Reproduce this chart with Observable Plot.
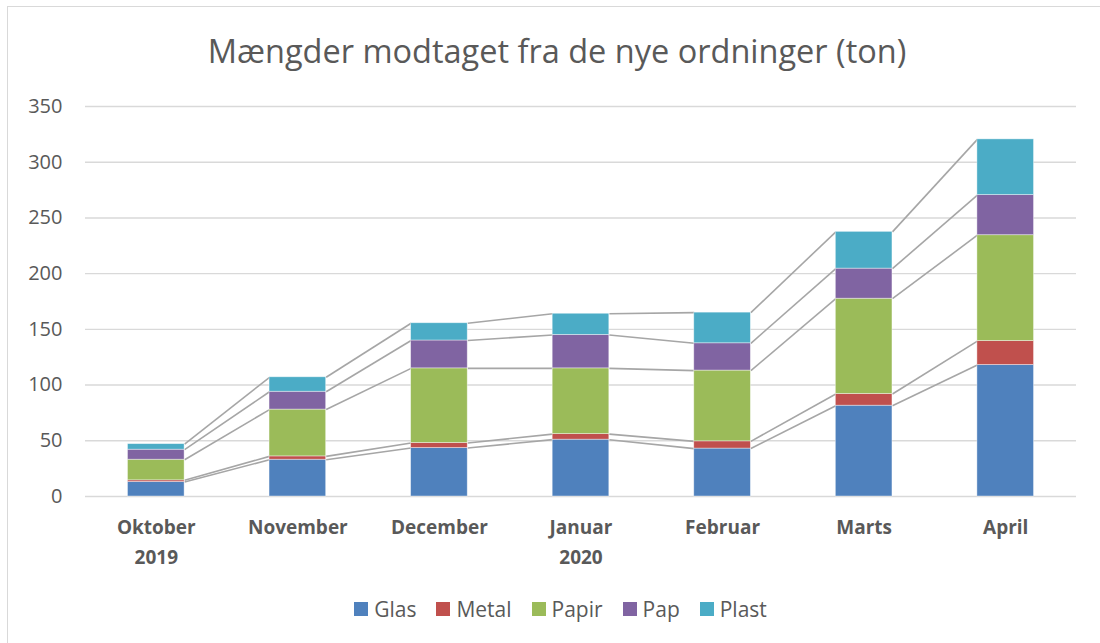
<!DOCTYPE html>
<html>
<head>
<meta charset="utf-8">
<script src="https://cdn.jsdelivr.net/npm/d3@7"></script>
<script src="https://cdn.jsdelivr.net/npm/@observablehq/plot@0.6"></script>
<style>
  html, body { margin: 0; padding: 0; background: #fff; }
  #page { position: relative; width: 1100px; height: 643px; overflow: hidden; font-family: "Open Sans", sans-serif; color: #595959; }
  #frame { position: absolute; left: 7px; top: 6px; width: 1200px; height: 800px; border-left: 1.5px solid #d9d9d9; border-top: 1.5px solid #d9d9d9; }
  #title { position: absolute; left: 0; width: 1114px; top: 29px; text-align: center; font-size: 32.5px; line-height: 44px; color: #595959; }
  #chart { position: absolute; left: 0; top: 80px; }
  #legend { position: absolute; left: 0; width: 1121px; top: 594px; display: flex; justify-content: center; gap: 20px; font-size: 21px; line-height: 30px; }
  .item { display: flex; align-items: center; gap: 6px; }
  .sw { width: 14px; height: 14px; display: inline-block; }
</style>
</head>
<body>
<div id="page">
  <div id="frame"></div>
  <div id="title">Mængder modtaget fra de nye ordninger (ton)</div>
  <div id="chart"></div>
  <div id="legend"></div>
</div>
<script>
const months = ["Oktober\n2019", "November", "December", "Januar\n2020", "Februar", "Marts", "April"];
const series = ["Glas", "Metal", "Papir", "Pap", "Plast"];
const colors = ["#4f81bd", "#c0504d", "#9bbb59", "#8064a2", "#4bacc6"];
const glas  = [13, 33, 43.5, 51, 43, 81.5, 118];
const metal = [1.5, 3, 4.5, 5, 6.5, 10.5, 21.5];
const papir = [18.5, 42, 67, 59, 63.5, 85.5, 95];
const pap   = [9, 16, 25, 30, 24.5, 27, 36];
const plast = [5, 13, 15.5, 19, 27.5, 33, 50];
const yTicks = [0, 50, 100, 150, 200, 250, 300, 350];

const values = [glas, metal, papir, pap, plast];
const half = 0.2;

// build stacked rows
const rows = [];
const tops = series.map(() => []);
months.forEach((m, i) => {
  let base = 0;
  series.forEach((s, k) => {
    const v = values[k][i];
    rows.push({ i, series: s, y1: base, y2: base + v });
    base += v;
    tops[k][i] = base;
  });
});
const links = [];
series.forEach((s, k) => {
  for (let i = 0; i < months.length - 1; i++) {
    links.push({ i, series: s, ya: tops[k][i], yb: tops[k][i + 1] });
  }
});

const chart = Plot.plot({
  width: 1100,
  height: 500,
  marginLeft: 85,
  marginRight: 24,
  marginTop: 26,
  marginBottom: 84,
  style: { fontFamily: "Open Sans, sans-serif", color: "#595959", background: "transparent" },
  x: { domain: [-0.5, months.length - 0.5] },
  y: { domain: [0, 350] },
  color: { domain: series, range: colors },
  marks: [
    Plot.gridY(yTicks, { stroke: "#d9d9d9", strokeOpacity: 1, strokeWidth: 1.4 }),
    Plot.axisY(yTicks, { tickSize: 0, tickPadding: 23, fontSize: 20, fill: "#595959", label: null }),
    Plot.axisX(d3.range(months.length), {
      tickSize: 0, tickPadding: 17, fontSize: 19, fontWeight: "bold", fill: "#595959",
      lineHeight: 1.55, tickFormat: (i) => months[i], label: null
    }),
    Plot.link(links, {
      x1: (d) => d.i + half, x2: (d) => d.i + 1 - half,
      y1: "ya", y2: "yb", stroke: "#a6a6a6", strokeWidth: 1.6
    }),
    Plot.rect(rows, {
      x1: (d) => d.i - half, x2: (d) => d.i + half,
      y1: "y1", y2: "y2", fill: "series",
      stroke: "white", strokeWidth: 0.8, strokeOpacity: 0.5
    })
  ]
});
document.getElementById("chart").appendChild(chart);

const legend = document.getElementById("legend");
series.forEach((s, k) => {
  const it = document.createElement("div");
  it.className = "item";
  const sw = document.createElement("span");
  sw.className = "sw";
  sw.style.background = colors[k];
  const t = document.createElement("span");
  t.textContent = s;
  it.appendChild(sw);
  it.appendChild(t);
  legend.appendChild(it);
});
</script>
</body>
</html>
